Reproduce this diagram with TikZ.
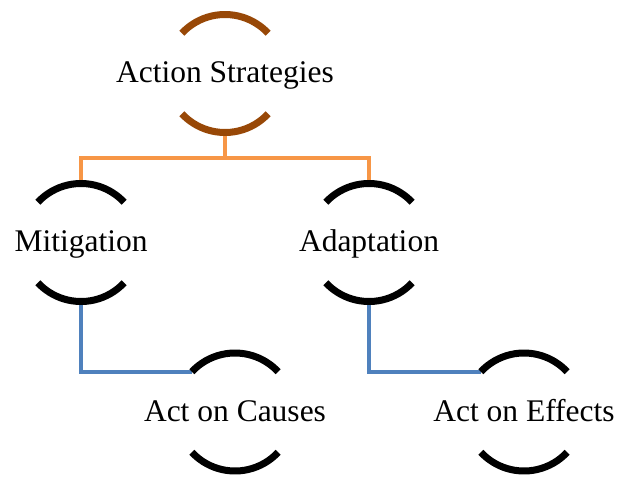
\documentclass[tikz,border=0pt]{standalone}
\usepackage{fontspec}
\setmainfont{Liberation Serif}
\usetikzlibrary{calc}
\definecolor{rimbrown}{HTML}{984807}
\definecolor{busorange}{HTML}{F79646}
\definecolor{linkblue}{HTML}{4F81BD}
\tikzset{
  ring/.style={circle, minimum size=118pt, inner sep=0pt, outer sep=0pt},
  rim/.style={line width=7pt, line cap=butt},
  lbl/.style={font=\fontsize{31.5}{36}\selectfont, inner sep=0pt, anchor=base},
  link/.style={line width=4pt, line join=miter}
}
\begin{document}
\begin{tikzpicture}[x=1pt,y=1pt]
  \useasboundingbox (0,0) rectangle (619,-477);

  % invisible rings that carry the anchors
  \node[ring] (T) at (225,-73.5) {};
  \node[ring] (M) at (81,-242.5) {};
  \node[ring] (A) at (369,-242.5) {};
  \node[ring] (C) at (235,-412) {};
  \node[ring] (E) at (524,-412) {};

  % labels
  \node[lbl] (tT) at ($(T)+(0,-9)$) {Action Strategies};
  \node[lbl] (tM) at ($(M)+(0,-9)$) {Mitigation};
  \node[lbl] (tA) at ($(A)+(0,-9)$) {Adaptation};
  \node[lbl] (tC) at ($(C)+(0,-9)$) {Act on Causes};
  \node[lbl] (tE) at ($(E)+(0,-9)$) {Act on Effects};

  % connectors
  \draw[link, busorange] (T.south) -- ++(0,-25) coordinate (bus) -| (M.north);
  \draw[link, busorange] (bus) -| (A.north);
  \draw[link, linkblue] (M.south) |- (C.137);
  \draw[link, linkblue] (A.south) |- (E.137);

  % upper and lower rims of each ring
  \draw[rim, rimbrown] (T.43) arc[start angle=43, end angle=137, radius=59pt];
  \draw[rim, rimbrown] (T.-137) arc[start angle=-137, end angle=-43, radius=59pt];
  \foreach \n in {M,A,C,E}{
    \draw[rim] (\n.43) arc[start angle=43, end angle=137, radius=59pt];
    \draw[rim] (\n.-137) arc[start angle=-137, end angle=-43, radius=59pt];
  }
\end{tikzpicture}
\end{document}
